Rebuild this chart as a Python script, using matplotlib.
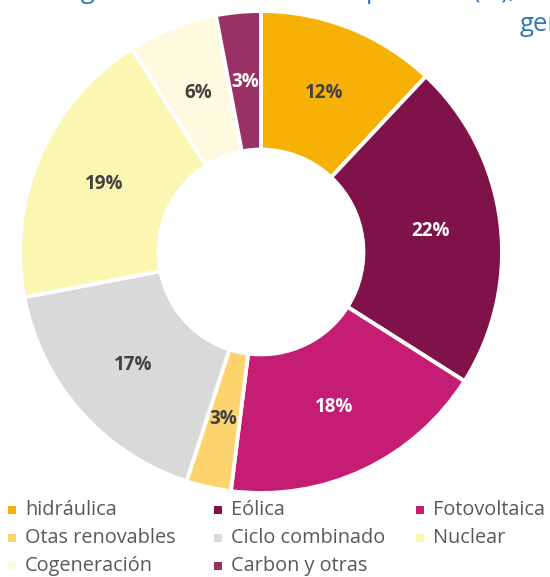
import matplotlib
matplotlib.use("Agg")
import matplotlib.pyplot as plt
from matplotlib.patches import Rectangle

# generation mix (%)
labels = ["hidráulica", "Eólica", "Fotovoltaica", "Otas renovables",
          "Ciclo combinado", "Nuclear", "Cogeneración", "Carbon y otras"]
values = [12, 22, 18, 3, 17, 19, 6, 3]
colors = ["#F7B105", "#7F1249", "#C51D73", "#FCD36C",
          "#D9D9D9", "#FCF6B3", "#FEFADF", "#993164"]
label_colors = ["#404040", "white", "white", "#404040",
                "#404040", "#404040", "#404040", "white"]

plt.rcParams["font.family"] = ["Open Sans", "DejaVu Sans"]

W, H = 550, 577
fig = plt.figure(figsize=(W / 100, H / 100), dpi=100)

cx, cy, R = 261, 252, 241
ax = fig.add_axes([(cx - R) / W, (H - cy - R) / H, 2 * R / W, 2 * R / H])
wedges, texts, autotexts = ax.pie(
    values, colors=colors, startangle=90, counterclock=False, radius=1,
    autopct="%1.0f%%", pctdistance=0.71,
    wedgeprops=dict(width=0.575, edgecolor="white", linewidth=2.8),
)
for t, c in zip(autotexts, label_colors):
    t.set_color(c)
    t.set_fontsize(13.5)
    t.set_fontweight("bold")
ax.set_xlim(-1, 1)
ax.set_ylim(-1, 1)
ax.set_aspect("equal")
ax.axis("off")

# title, cut off at the top edge in the original
tcol = "#2E75B6"
fig.text(81 / W, 1 + 2 / H, "Estructura de la ", ha="right", va="baseline",
         color=tcol, fontsize=18)
fig.text(81 / W, 1 + 2 / H, "generación eléctrica:", ha="left", va="baseline",
         color=tcol, fontsize=18)
fig.text(366 / W, 1 + 2 / H, "potencia (%),", ha="left", va="baseline",
         color=tcol, fontsize=18)
fig.text(520 / W, 1 - 31 / H, "generación", ha="left", va="baseline",
         color=tcol, fontsize=18.5)

# legend (3 columns, row-major)
col_x = [12, 218, 420]
row_y = [510, 538, 566]
for i, (lab, col) in enumerate(zip(labels, colors)):
    x = col_x[i % 3]
    y = row_y[i // 3]
    fig.patches.append(Rectangle(((x - 4) / W, (H - y - 4) / H), 8 / W, 8 / H,
                                 transform=fig.transFigure, facecolor=col,
                                 edgecolor="none"))
    fig.text((x + 13) / W, (H - y) / H, lab, ha="left", va="center",
             color="#595959", fontsize=14.3)

fig.savefig("out.png", dpi=100)
